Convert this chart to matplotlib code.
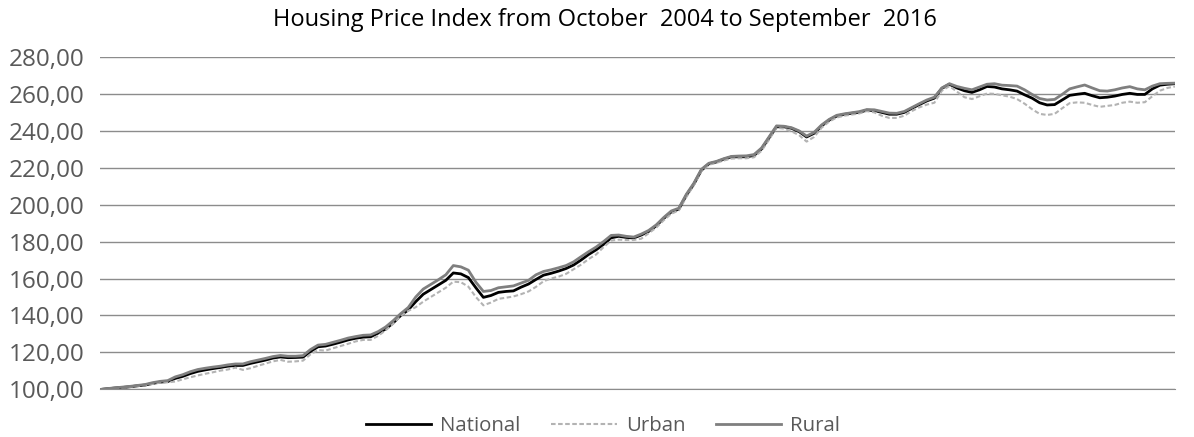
import numpy as np
import matplotlib.pyplot as plt
from matplotlib.ticker import FuncFormatter

# monthly index, October 2004 .. September 2016 (144 months)
national = [
    100.0, 100.4, 100.8, 101.1, 101.5, 102.0, 102.4, 103.3, 104.0, 104.3,
    106.0, 107.1, 108.6, 109.8, 110.6, 111.3, 111.9, 112.6, 113.0, 113.0,
    114.1, 115.0, 115.9, 117.0, 117.6, 117.2, 117.3, 117.5, 120.6, 123.1,
    123.5, 124.5, 125.6, 126.8, 127.7, 128.3, 128.5, 130.5, 132.7, 136.0,
    140.0, 143.0, 147.5, 151.5, 154.0, 156.5, 159.0, 163.0, 162.5, 160.5,
    155.0, 149.8, 150.8, 152.5, 153.0, 153.3, 155.3, 157.0, 159.5, 161.8,
    162.8, 164.0, 165.4, 167.3, 170.0, 173.0, 175.5, 178.5, 182.0, 182.8,
    182.2, 181.9, 183.5, 185.5, 188.5, 192.5, 196.0, 197.5, 205.0, 211.0,
    218.5, 222.0, 223.0, 224.5, 225.7, 225.8, 225.8, 226.5, 230.0, 236.0,
    242.0, 242.0, 241.2, 239.4, 236.5, 238.5, 242.5, 245.6, 247.8, 248.7,
    249.3, 249.8, 251.0, 250.8, 249.8, 248.8, 248.8, 249.8, 252.0, 254.0,
    256.0, 257.5, 262.8, 265.0, 263.0, 261.5, 260.6, 262.0, 263.8, 263.5,
    262.5, 262.0, 261.3, 259.3, 257.5, 255.0, 253.8, 254.0, 256.5, 259.0,
    259.6, 260.1, 258.8, 257.7, 258.0, 258.6, 259.5, 260.1, 259.5, 259.5,
    262.5, 264.5, 265.0, 265.3,
]
urban = [
    100.0, 100.3, 100.7, 101.0, 101.4, 101.9, 102.3, 103.0, 103.7, 103.9,
    104.3, 105.5, 106.6, 107.6, 108.5, 109.3, 110.2, 110.8, 111.8, 110.6,
    111.5, 112.8, 114.0, 115.2, 116.0, 115.0, 115.2, 115.6, 119.0, 121.3,
    121.0, 122.3, 123.5, 124.7, 126.0, 126.8, 126.8, 129.0, 132.0, 135.5,
    139.8, 142.5, 144.5, 147.5, 150.0, 152.5, 155.0, 158.3, 158.0, 155.6,
    150.0, 145.5, 147.0, 149.0, 149.6, 150.3, 151.5, 153.0, 155.5, 158.5,
    160.0, 161.0, 162.5, 165.0, 167.5, 170.5, 173.0, 177.0, 180.5, 181.0,
    180.8, 180.8, 181.5, 184.5, 187.5, 191.5, 195.0, 196.8, 204.0, 210.5,
    218.0, 221.5, 222.5, 223.8, 224.8, 225.0, 225.0, 225.5, 229.0, 235.0,
    241.5, 241.0, 239.5, 237.5, 234.0, 236.5, 241.5, 244.8, 247.0, 248.0,
    248.6, 249.2, 250.5, 249.8, 248.0, 246.8, 246.8, 248.0, 250.5, 252.5,
    254.0, 255.0, 261.5, 264.0, 261.0, 258.0, 257.0, 258.5, 260.0, 259.8,
    259.0, 258.3, 257.0, 254.5, 251.5, 249.0, 248.4, 249.0, 252.0, 254.8,
    255.2, 255.0, 253.8, 252.8, 253.3, 253.8, 255.0, 255.6, 255.0, 255.3,
    258.5, 261.5, 263.0, 263.8,
]
rural = [
    100.0, 100.5, 100.9, 101.3, 101.7, 102.2, 102.7, 103.7, 104.4, 104.8,
    106.8, 108.0, 109.6, 110.8, 111.5, 112.1, 112.6, 113.3, 113.8, 113.8,
    115.0, 115.9, 116.8, 117.8, 118.4, 118.0, 118.0, 118.3, 121.6, 124.0,
    124.4, 125.5, 126.6, 127.8, 128.6, 129.3, 129.5, 131.3, 133.8, 137.2,
    141.0, 144.3, 150.0, 154.3, 156.8, 159.3, 162.0, 167.0, 166.3, 164.5,
    158.0, 153.0, 153.5, 155.0, 155.5, 156.0, 157.5, 159.0, 162.0, 163.8,
    164.7, 165.8, 167.0, 169.0, 171.8, 174.5, 177.0, 180.0, 183.3, 183.5,
    182.8, 182.4, 184.0, 186.0, 189.0, 193.0, 196.5, 198.0, 205.5, 211.5,
    219.0, 222.3, 223.3, 224.8, 226.0, 226.2, 226.3, 227.0, 230.5, 236.5,
    242.5, 242.3, 241.5, 239.8, 237.0, 239.0, 243.0, 246.0, 248.2, 249.0,
    249.6, 250.2, 251.3, 251.2, 250.3, 249.4, 249.3, 250.3, 252.4, 254.5,
    256.5, 258.0, 263.0, 265.3, 263.8, 262.8, 262.0, 263.5, 265.0, 265.3,
    264.5, 264.3, 264.0, 262.0, 259.5, 257.3, 256.5, 256.8, 259.5, 262.5,
    263.6, 264.6, 263.0, 261.5, 261.3, 262.0, 263.0, 263.7, 262.5, 262.0,
    264.0, 265.3, 265.5, 265.6,
]
y_ticks = [100, 120, 140, 160, 180, 200, 220, 240, 260, 280]

plt.rcParams['font.family'] = ['Open Sans', 'DejaVu Sans']
txt = '#595959'

fig = plt.figure(figsize=(11.94, 4.37), dpi=100)
ax = fig.add_axes([0.0838, 0.1087, 0.9002, 0.762])

x = np.arange(len(national))
ax.plot(x, national, color='black', lw=2.0, label='National')
ax.plot(x, urban, color='#b3b3b3', lw=1.5, ls=(0, (2.2, 1.2)), label='Urban')
ax.plot(x, rural, color='#7f7f7f', lw=2.0, label='Rural')

ax.set_xlim(0, len(national) - 1)
ax.set_ylim(100, 280)
ax.set_yticks(y_ticks)
ax.yaxis.set_major_formatter(FuncFormatter(lambda v, p: f'{v:.2f}'.replace('.', ',')))
ax.set_xticks([])
ax.tick_params(axis='y', length=0, labelsize=17.5, labelcolor=txt, pad=11)
ax.grid(axis='y', color='#8c8c8c', lw=1)
ax.set_axisbelow(True)
for s in ['top', 'right', 'left']:
    ax.spines[s].set_visible(False)
ax.spines['bottom'].set_color('#8c8c8c')

fig.text(0.507, 0.955, 'Housing Price Index from October  2004 to September  2016',
         fontsize=17, color='black', ha='center', va='center')
ax.legend(loc='upper center', bbox_to_anchor=(0.468, -0.025), ncol=3, frameon=False,
          fontsize=14.7, labelcolor=txt, handlelength=3.2, handletextpad=0.45,
          columnspacing=1.5)

fig.savefig('out.png', dpi=100)
